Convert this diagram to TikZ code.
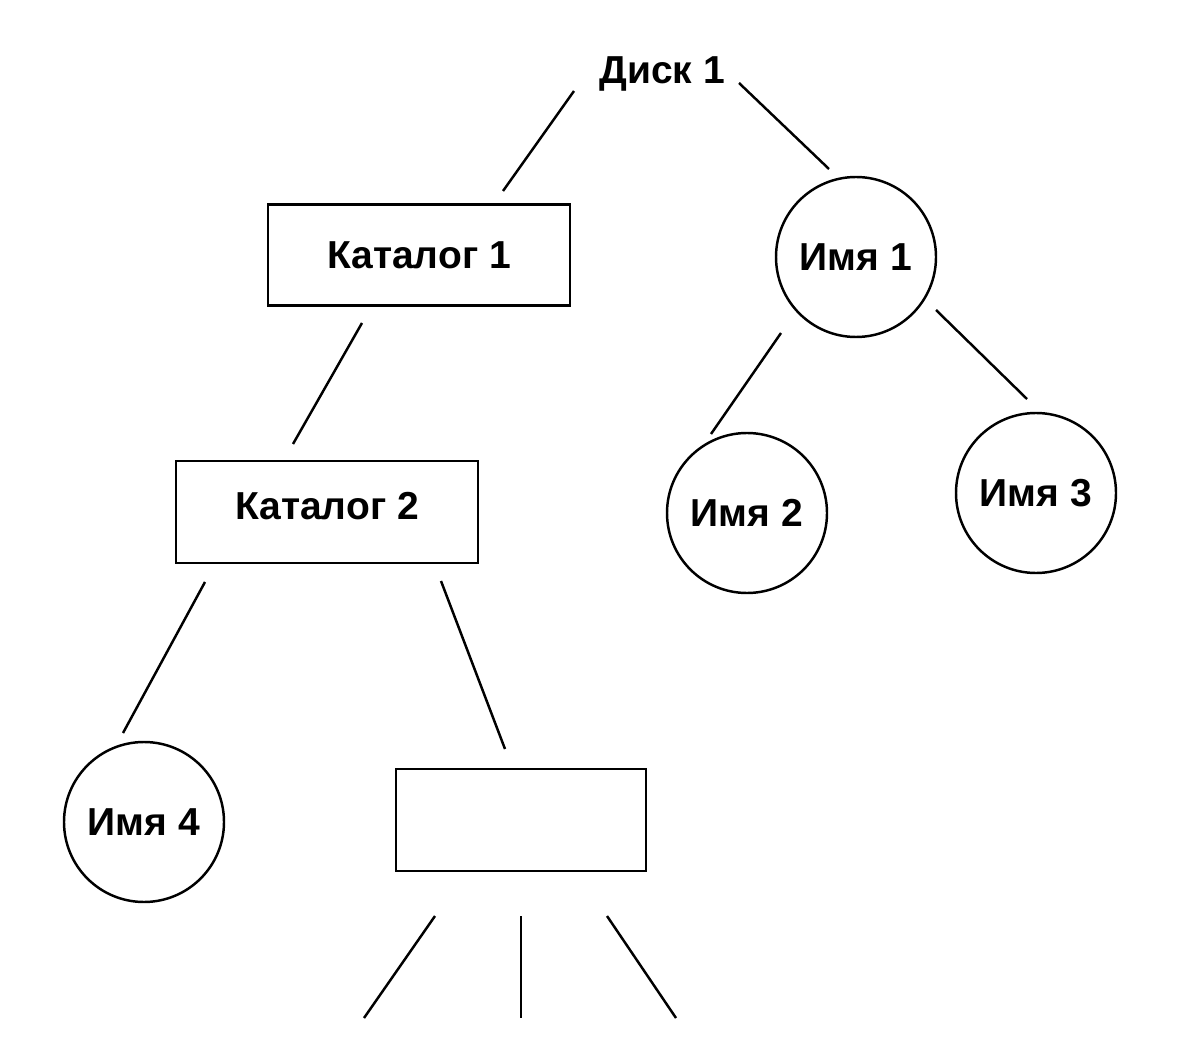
\documentclass[tikz,border=0pt]{standalone}
\usepackage{fontspec}
\setmainfont{Liberation Sans}
\usepackage{tikz}
\usepackage{xcolor}
\definecolor{edge}{RGB}{0,0,0}

\begin{document}
\begin{tikzpicture}[
        x = 0.02cm, y = -0.02cm,
        line width = 1.4pt,
        every node/.style = {font = \fontsize{22.2}{26}\selectfont\bfseries},
        katalog/.style = {draw = edge, rectangle, line width = 1.4pt, inner sep = 0pt},
        imya/.style = {draw = edge, circle, line width = 1.4pt, minimum size = 160*0.02cm, inner sep = 0pt}
        ]
            \useasboundingbox (0,0) rectangle (1183,1050);

            % nodes
            \node (disk) at (662,74) {Диск 1};
            \node[katalog, minimum width = 302*0.02cm, minimum height = 101*0.02cm] (kat1) at (419,255) {Каталог 1};
            \node[katalog, minimum width = 302*0.02cm, minimum height = 102*0.02cm] (kat2) at (327,512) {\raisebox{7pt}{Каталог 2}};
            \node[katalog, minimum width = 250*0.02cm, minimum height = 102*0.02cm] (kat3) at (521,820) {};
            \node[imya] (imya1) at (856,257) {Имя 1};
            \node[imya] (imya2) at (747,513) {Имя 2};
            \node[imya] (imya3) at (1036,493) {Имя 3};
            \node[imya] (imya4) at (144,822) {Имя 4};

            % connector ends
            \coordinate (d-l) at (574,91);   \coordinate (k1-t) at (503,191);
            \coordinate (d-r) at (739,83);   \coordinate (i1-t) at (829,169);
            \coordinate (k1-b) at (362,323); \coordinate (k2-t) at (293,444);
            \coordinate (i1-l) at (781,333); \coordinate (i2-t) at (711,434);
            \coordinate (i1-r) at (936,310); \coordinate (i3-t) at (1027,399);
            \coordinate (k2-l) at (205,582); \coordinate (i4-t) at (123,733);
            \coordinate (k2-r) at (441,581); \coordinate (k3-t) at (505,749);
            \coordinate (k3-a) at (435,916); \coordinate (out-a) at (364,1018);
            \coordinate (k3-b) at (521,916); \coordinate (out-b) at (521,1018);
            \coordinate (k3-c) at (607,916); \coordinate (out-c) at (676,1018);

            % edges
            \foreach \a/\b in {d-l/k1-t, d-r/i1-t, k1-b/k2-t, i1-l/i2-t, i1-r/i3-t,
                               k2-l/i4-t, k2-r/k3-t, k3-a/out-a, k3-b/out-b, k3-c/out-c}
                \draw[edge] (\a) -- (\b);
        \end{tikzpicture}
\end{document}
